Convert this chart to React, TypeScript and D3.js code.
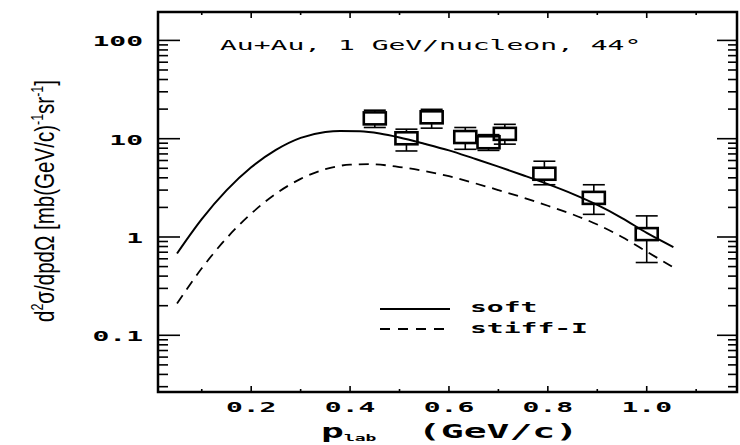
import React from "react";
import * as d3 from "d3";

// Measured proton spectrum: p_lab (GeV/c), cross section, error-bar ends
const dataP = [0.45, 0.514, 0.565, 0.633, 0.68, 0.713, 0.793, 0.893, 1.0];
const dataV = [16.1, 10.1, 16.5, 10.4, 9.2, 11.2, 4.4, 2.5, 1.07];
const dataHi = [19.5, 12.5, 19.9, 13.0, 11.0, 14.0, 5.9, 3.4, 1.64];
const dataLo = [13.0, 7.5, 12.8, 7.8, 7.6, 8.8, 3.4, 1.7, 0.55];

// Model curves
const softP = [0.05, 0.1, 0.15, 0.2, 0.25, 0.3, 0.35, 0.38, 0.42, 0.46, 0.5, 0.55, 0.6, 0.65, 0.7, 0.75, 0.8, 0.85, 0.9, 0.95, 1.0, 1.054];
const softV = [0.68, 1.52, 2.98, 5.12, 7.7, 10.2, 11.7, 12.0, 11.9, 11.3, 10.3, 8.9, 7.6, 6.3, 5.2, 4.25, 3.45, 2.75, 2.12, 1.56, 1.1, 0.79];
const stiffP = [0.05, 0.1, 0.15, 0.2, 0.25, 0.3, 0.35, 0.4, 0.44, 0.5, 0.55, 0.6, 0.65, 0.7, 0.75, 0.8, 0.85, 0.9, 0.95, 1.0, 1.054];
const stiffV = [0.21, 0.48, 0.97, 1.73, 2.76, 3.9, 4.89, 5.44, 5.5, 5.15, 4.7, 4.15, 3.55, 3.0, 2.52, 2.08, 1.7, 1.34, 1.0, 0.71, 0.49];

const yTickLabels = ["0.1", "1", "10", "100"];
const yTickValues = [0.1, 1, 10, 100];
const xTickLabels = ["0.2", "0.4", "0.6", "0.8", "1.0"];
const xTickValues = [0.2, 0.4, 0.6, 0.8, 1.0];

const title = "Au+Au, 1 GeV/nucleon, 44°";
const legendNames = ["soft", "stiff-I"];

const MONO = "DejaVu Sans Mono";

function Wide({ x, y, size, anchor = "start", bold = false, children }: any) {
  return (
    <g transform={`translate(${x},${y}) scale(2,1)`}>
      <text
        fontFamily={MONO}
        fontSize={size}
        fontWeight={bold ? "bold" : "normal"}
        textAnchor={anchor}
        fill="#000"
      >
        {children}
      </text>
    </g>
  );
}

export default function App() {
  const left = 158, right = 737, top = 12, bottom = 392;
  const x = d3.scaleLinear().domain([0.0115, 1.1826]).range([left, right]);
  const y = d3.scaleLog().domain([0.02649, 194.5]).range([bottom, top]);

  const line = d3
    .line<[number, number]>()
    .x((d) => x(d[0]))
    .y((d) => y(d[1]))
    .curve(d3.curveMonotoneX);

  const soft = softP.map((p, i) => [p, softV[i]] as [number, number]);
  const stiff = stiffP.map((p, i) => [p, stiffV[i]] as [number, number]);

  const yTicks = y.ticks();
  const xTicks = x.ticks(12);

  const boxW = 22, boxH = 12, capW = 22;

  return (
    <svg
      width={740}
      height={445}
      style={{ position: "absolute", left: 0, top: 0, background: "#fff" }}
    >
      <rect x={0} y={0} width={740} height={445} fill="#fff" />

      {/* y ticks, both sides */}
      {yTicks.map((t, i) => {
        const major = Math.abs(Math.log10(t) - Math.round(Math.log10(t))) < 1e-9;
        const yy = y(t);
        return (
          <g key={"yt" + i} stroke="#000" strokeWidth={1.6}>
            <line x1={left} x2={left + (major ? 22 : 10)} y1={yy} y2={yy} />
            <line x1={right} x2={right - (major ? 20 : 9)} y1={yy} y2={yy} />
          </g>
        );
      })}

      {/* x ticks, bottom and top */}
      {xTicks.map((t, i) => {
        const major = Math.round(t * 10) % 2 === 0;
        const xx = x(t);
        return (
          <g key={"xt" + i} stroke="#000" strokeWidth={1.6}>
            <line x1={xx} x2={xx} y1={bottom} y2={bottom - (major ? 6 : 3)} />
            <line x1={xx} x2={xx} y1={top} y2={top + (major ? 6 : 3)} />
          </g>
        );
      })}

      {/* frame */}
      <rect
        x={left}
        y={top}
        width={right - left}
        height={bottom - top}
        fill="none"
        stroke="#000"
        strokeWidth={2.5}
      />

      {/* tick labels */}
      {yTickValues.map((v, i) => (
        <Wide key={"yl" + i} x={143} y={y(v) + 6} size={14} anchor="end" bold>
          {yTickLabels[i]}
        </Wide>
      ))}
      {xTickValues.map((v, i) => (
        <Wide key={"xl" + i} x={x(v)} y={412} size={14} anchor="middle" bold>
          {xTickLabels[i]}
        </Wide>
      ))}

      {/* model curves */}
      <path d={line(soft) || ""} fill="none" stroke="#000" strokeWidth={2} />
      <path
        d={line(stiff) || ""}
        fill="none"
        stroke="#000"
        strokeWidth={1.8}
        strokeDasharray="10 7"
      />

      {/* data points with error bars */}
      {dataP.map((p, i) => {
        const cx = x(p);
        const cy = y(dataV[i]);
        const yh = y(dataHi[i]);
        const yl = y(dataLo[i]);
        return (
          <g key={"d" + i} stroke="#000" fill="none">
            <line x1={cx} x2={cx} y1={yh} y2={cy - boxH / 2} strokeWidth={1.6} />
            <line x1={cx} x2={cx} y1={cy + boxH / 2} y2={yl} strokeWidth={1.6} />
            <line x1={cx - capW / 2} x2={cx + capW / 2} y1={yh} y2={yh} strokeWidth={1.6} />
            <line x1={cx - capW / 2} x2={cx + capW / 2} y1={yl} y2={yl} strokeWidth={1.6} />
            <rect
              x={cx - boxW / 2}
              y={cy - boxH / 2}
              width={boxW}
              height={boxH}
              strokeWidth={2.6}
            />
          </g>
        );
      })}

      {/* title */}
      <Wide x={220} y={50} size={14}>
        {title}
      </Wide>

      {/* legend */}
      <line x1={380} x2={450} y1={309} y2={309} stroke="#000" strokeWidth={2} />
      <line
        x1={380}
        x2={450}
        y1={329}
        y2={329}
        stroke="#000"
        strokeWidth={1.8}
        strokeDasharray="10 8"
      />
      <Wide x={470} y={312} size={14} bold>
        {legendNames[0]}
      </Wide>
      <Wide x={470} y={333} size={14} bold>
        {legendNames[1]}
      </Wide>

      {/* axis titles */}
      <g transform="translate(321,438) scale(2,1)">
        <text fontFamily={MONO} fontWeight="bold" fontSize={19} fill="#000">
          p<tspan fontSize={9} dy={3}>lab</tspan>
        </text>
      </g>
      <Wide x={418} y={438} size={19} bold>
        (GeV/c)
      </Wide>

      <text
        transform="translate(54,201) rotate(-90)"
        textAnchor="middle"
        fontFamily="Liberation Sans"
        fontSize={28}
        textLength={242}
        lengthAdjust="spacingAndGlyphs"
        fill="#000"
      >
        d<tspan dy={-11} fontSize={17}>2</tspan>
        <tspan dy={11}>σ/dpdΩ [mb(GeV/c)</tspan>
        <tspan dy={-11} fontSize={17}>-1</tspan>
        <tspan dy={11}>sr</tspan>
        <tspan dy={-11} fontSize={17}>-1</tspan>
        <tspan dy={11}>]</tspan>
      </text>
    </svg>
  );
}
